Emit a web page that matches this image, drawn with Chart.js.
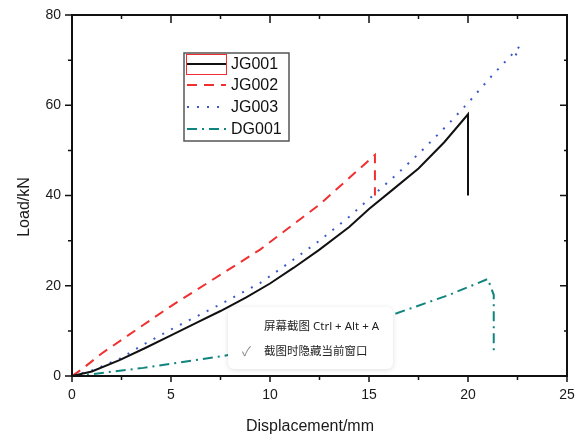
<!DOCTYPE html>
<html>
<head>
<meta charset="utf-8">
<script src="https://cdn.jsdelivr.net/npm/chart.js@4.4.1/dist/chart.umd.min.js"></script>
<style>
  html, body { margin: 0; padding: 0; background: #fff; }
  #wrap { position: relative; width: 582px; height: 436px; }
  #popup {
    position: absolute; left: 228px; top: 307px; width: 165px; height: 62px;
    background: #fff; border-radius: 6px; box-shadow: 0 1px 5px rgba(0,0,0,0.13);
    font-family: "Noto Sans", "Noto Sans CJK SC", sans-serif; font-size: 11.5px; color: #222;
  }
  #popup .l1 { position: absolute; left: 36px; top: 10px; }
  #popup .l2 { position: absolute; left: 36px; top: 35px; }
  #popup .chk { position: absolute; left: 14px; top: 34px; color: #888; font-size: 13px; }
</style>
</head>
<body>
<div id="wrap">
  <canvas id="graph" width="582" height="436"></canvas>
  <div id="popup">
    <span class="l1">屏幕截图 Ctrl + Alt + A</span>
    <span class="chk">✓</span>
    <span class="l2">截图时隐藏当前窗口</span>
  </div>
</div>
<script>
// Séries
const seriesLabels = ["JG001", "JG002", "JG003", "DG001"];

const jg001X = [0, 1, 2.4, 3.7, 5, 6.2, 7.5, 8.8, 10, 11.2, 12.5, 14, 15, 16.2, 17.5, 18.8, 20, 20];
const jg001Y = [0, 1, 3.5, 6.2, 9, 11.6, 14.4, 17.4, 20.5, 24, 28, 33, 37, 41.3, 46, 51.8, 58, 40];

const jg002X = [0, 0.5, 1.5, 5, 9.5, 12.5, 15.3, 15.3];
const jg002Y = [0, 1.5, 5, 15.5, 28, 38, 49, 40];

const jg003X = [0, 1, 2.4, 3.7, 5, 6.2, 7.5, 9.5, 11, 12.5, 14, 15.2, 16.3, 17.5, 19, 20, 21.2, 22.6, 22.4];
const jg003Y = [0, 1.2, 3.8, 7.2, 10.3, 13, 15.9, 20.6, 25.2, 30, 35.3, 40, 44.3, 49.2, 55.8, 60.5, 66.5, 73, 71];

const dg001X = [0, 1, 3.6, 7.6, 10, 13, 16.4, 19, 21, 21.3, 21.3];
const dg001Y = [0, 0.4, 1.8, 4.4, 6.5, 9.5, 13.9, 17.9, 21.5, 18, 5];

const xTicks = [0, 5, 10, 15, 20, 25];
const yTicks = [0, 20, 40, 60, 80];

const couleurs = ["#111111", "#f03030", "#3a5ac8", "#10857f"];
const tirets = [[], [10, 7], [2, 8], [10, 5, 2, 5]];

function points(xs, ys) {
    return xs.map((x, i) => ({ x: x, y: ys[i] }));
}

const donnees = [
    points(jg001X, jg001Y),
    points(jg002X, jg002Y),
    points(jg003X, jg003Y),
    points(dg001X, dg001Y)
];

// Cadre, graduations, titres et légende
const cadrePlugin = {
    id: "cadre",
    afterDatasetsDraw(chart) {
        const c = chart.ctx;
        const a = chart.chartArea;
        const sx = chart.scales.x, sy = chart.scales.y;
        c.save();
        c.strokeStyle = "#111";
        c.lineWidth = 2;
        c.strokeRect(a.left, a.top, a.right - a.left, a.bottom - a.top);
        c.lineWidth = 1.5;
        c.beginPath();
        for (let v = 0; v <= 25; v += 2.5) {
            const px = sx.getPixelForValue(v);
            const maj = v % 5 === 0;
            c.moveTo(px, a.bottom); c.lineTo(px, a.bottom + (maj ? 6 : 4));
            c.moveTo(px, a.top); c.lineTo(px, a.top + (maj ? 8 : 4));
        }
        for (let v = 0; v <= 80; v += 10) {
            const py = sy.getPixelForValue(v);
            const maj = v % 20 === 0;
            c.moveTo(a.left, py); c.lineTo(a.left - (maj ? 7 : 4), py);
            c.moveTo(a.right, py); c.lineTo(a.right - (maj ? 7 : 3), py);
        }
        c.stroke();

        // titres des axes
        c.fillStyle = "#1a1a1a";
        c.font = "16px Arial, 'Liberation Sans', sans-serif";
        c.textAlign = "center";
        c.textBaseline = "alphabetic";
        c.fillText("Displacement/mm", 310, 431);
        c.translate(29, 207);
        c.rotate(-Math.PI / 2);
        c.fillText("Load/kN", 0, 0);
        c.restore();

        // légende
        c.save();
        c.fillStyle = "#fff";
        c.fillRect(184, 53, 105, 88);
        c.strokeStyle = "#555";
        c.lineWidth = 1.5;
        c.strokeRect(184, 53, 105, 88);
        const ys = [64, 85, 107, 129];
        chart.data.datasets.forEach((ds, i) => {
            c.beginPath();
            c.strokeStyle = ds.borderColor;
            c.lineWidth = 2;
            c.setLineDash(ds.borderDash);
            c.moveTo(187, ys[i]);
            c.lineTo(226, ys[i]);
            c.stroke();
            c.setLineDash([]);
            c.fillStyle = "#111";
            c.font = "16px Arial, 'Liberation Sans', sans-serif";
            c.textAlign = "left";
            c.textBaseline = "middle";
            c.fillText(ds.label, 231, ys[i] + 1);
        });
        c.strokeStyle = "#f03030";
        c.lineWidth = 1;
        c.strokeRect(186.5, 54.5, 40, 20);
        c.restore();
    }
};

function sansMarge(s) {
    s.paddingTop = 0; s.paddingBottom = 0;
    s.paddingLeft = 0; s.paddingRight = 0;
}

const ctx = document.getElementById("graph").getContext("2d");
new Chart(ctx, {
    type: "scatter",
    data: {
        datasets: donnees.map((d, i) => ({
            label: seriesLabels[i],
            data: d,
            showLine: true,
            borderColor: couleurs[i],
            backgroundColor: couleurs[i],
            borderWidth: 2,
            borderDash: tirets[i],
            pointRadius: 0,
            tension: 0
        }))
    },
    options: {
        responsive: false,
        animation: false,
        layout: { padding: { top: 15, right: 15, left: 0, bottom: 0 } },
        plugins: { legend: { display: false }, tooltip: { enabled: false } },
        scales: {
            x: {
                type: "linear", min: 0, max: 25,
                afterBuildTicks: s => { s.ticks = xTicks.map(v => ({ value: v })); },
                afterFit: s => { s.height = 60; sansMarge(s); },
                grid: { display: false, drawTicks: false },
                border: { display: false },
                ticks: { color: "#1a1a1a", padding: 11, font: { size: 14, family: "Arial" } }
            },
            y: {
                type: "linear", min: 0, max: 80,
                afterBuildTicks: s => { s.ticks = yTicks.map(v => ({ value: v })); },
                afterFit: s => { s.width = 72; sansMarge(s); },
                grid: { display: false, drawTicks: false },
                border: { display: false },
                ticks: { color: "#1a1a1a", padding: 11, font: { size: 14, family: "Arial" } }
            }
        }
    },
    plugins: [cadrePlugin]
});
</script>
</body>
</html>
